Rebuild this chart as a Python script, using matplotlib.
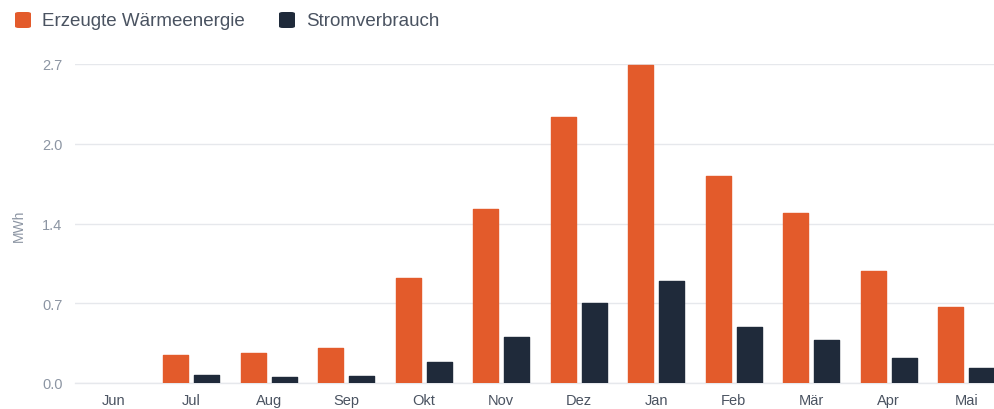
import numpy as np
import matplotlib
matplotlib.use('Agg')
import matplotlib.pyplot as plt
from matplotlib.patches import FancyBboxPatch

months = ['Jun', 'Jul', 'Aug', 'Sep', 'Okt', 'Nov', 'Dez', 'Jan', 'Feb', 'Mär', 'Apr', 'Mai']
waerme = [0.0, 0.24, 0.25, 0.30, 0.89, 1.47, 2.25, 2.69, 1.75, 1.44, 0.95, 0.64]
strom = [0.0, 0.07, 0.05, 0.06, 0.18, 0.39, 0.68, 0.86, 0.47, 0.36, 0.21, 0.13]
yticks = [0.0, 0.675, 1.35, 2.025, 2.7]
series = ['Erzeugte Wärmeenergie', 'Stromverbrauch']

orange = '#E35B2B'
dark = '#1F2A3A'
grid_c = '#E6E8EC'
tick_c = '#8C95A3'
text_c = '#4A5361'

plt.rcParams['font.family'] = ['Liberation Sans', 'DejaVu Sans']

W, H = 994, 410
fig = plt.figure(figsize=(W / 100, H / 100), dpi=100)
# axes runs off the right edge, like the original screenshot
ax = fig.add_axes([75 / W, (H - 384) / H, 930 / W, 319 / H])

x = np.arange(len(months))
bw = 0.32
lw_w = [0 if v == 0 else 1.0 for v in waerme]
lw_s = [0 if v == 0 else 1.0 for v in strom]
ax.bar(x - 0.2, waerme, bw, color=orange, edgecolor=orange, linewidth=lw_w,
       joinstyle='round', zorder=3)
ax.bar(x + 0.2, strom, bw, color=dark, edgecolor=dark, linewidth=lw_s,
       joinstyle='round', zorder=3)

ax.set_xlim(-0.5, len(months) - 0.5)
ax.set_ylim(0, 2.7)
ax.set_yticks(yticks)
ax.set_yticklabels(['{:.1f}'.format(v) for v in yticks])
ax.set_xticks(x)
ax.set_xticklabels(months)

ax.grid(axis='y', color=grid_c, linewidth=1, zorder=0)
for s in ['top', 'right', 'left']:
    ax.spines[s].set_visible(False)
ax.spines['bottom'].set_color(grid_c)
ax.spines['bottom'].set_linewidth(1)
ax.tick_params(axis='y', length=0, pad=9, labelsize=10.5, labelcolor=tick_c)
ax.tick_params(axis='x', length=0, pad=7, labelsize=10.5, labelcolor=text_c)

fig.text(19 / W, (H - 226) / H, 'MWh', rotation=90, ha='center', va='center',
         fontsize=10, color=tick_c)

# legend drawn by hand so the squares sit where they do in the original
leg = [(15, 42, orange), (279, 306, dark)]
for (sx, tx, c), name in zip(leg, series):
    fig.add_artist(FancyBboxPatch((sx / W, (H - 29) / H), 16 / W, 16 / H,
                                  boxstyle='round,pad=0,rounding_size=0.004',
                                  transform=fig.transFigure, facecolor=c,
                                  edgecolor='none'))
    fig.text(tx / W, (H - 21) / H, name, ha='left', va='center',
             fontsize=13.5, color=text_c)

fig.savefig('out.png', dpi=100)
